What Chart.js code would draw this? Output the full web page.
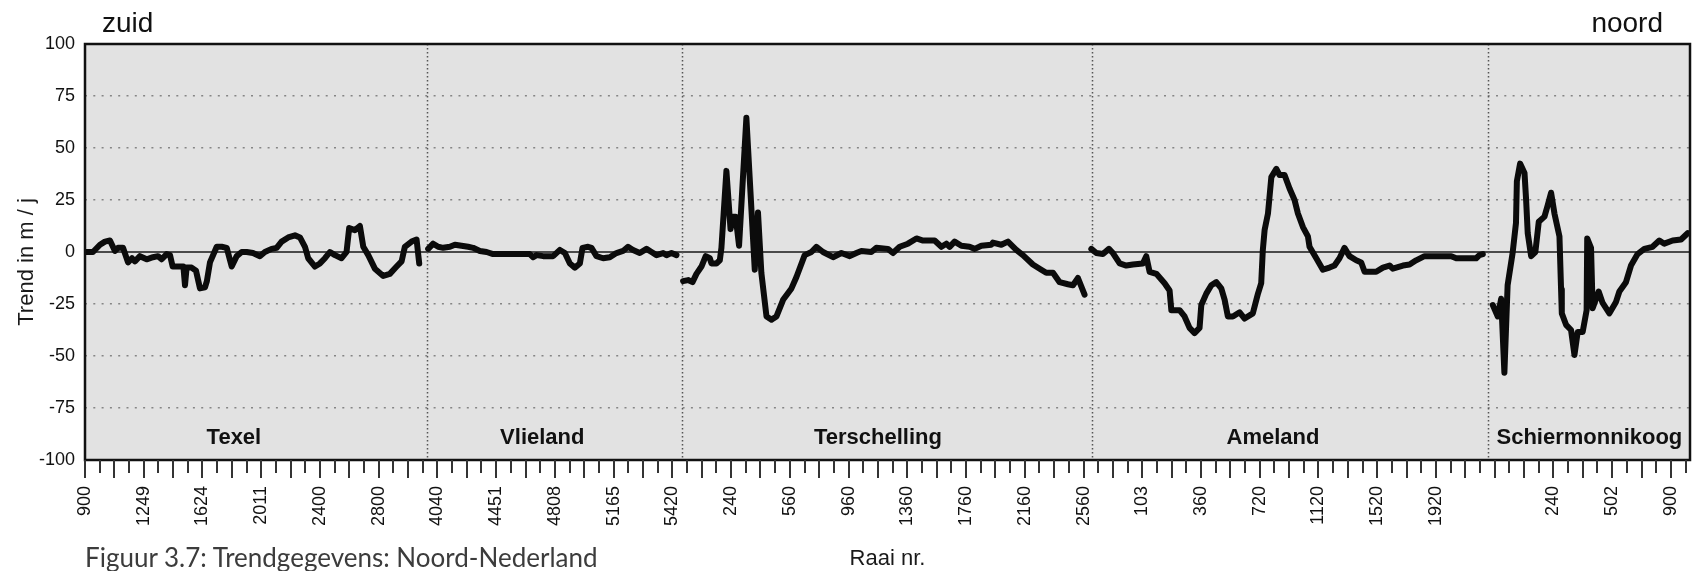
<!DOCTYPE html>
<html>
<head>
<meta charset="utf-8">
<title>Trendgegevens Noord-Nederland</title>
<script src="https://cdn.jsdelivr.net/npm/chart.js@4.4.1/dist/chart.umd.min.js"></script>
<style>
    body { margin: 0; background: #fff; }
    #wrap { position: relative; width: 1697px; height: 571px; overflow: hidden; }
    #chart { position: absolute; left: 0; top: 0; }
    .side { position: absolute; top: 9px; font: 28px 'Liberation Sans', Arial, sans-serif; line-height: 28px; color: #111; }
    #zuid { left: 102px; }
    #noord { right: 34px; }
    #caption { position: absolute; left: 85px; top: 544px; font: 26px Lato, sans-serif; line-height: 26px; color: #3c3c3c; white-space: nowrap; }
</style>
</head>
<body>
<div id="wrap">
    <canvas id="chart" width="1697" height="571"></canvas>
    <div class="side" id="zuid">zuid</div>
    <div class="side" id="noord">noord</div>
    <div id="caption">Figuur 3.7: Trendgegevens: Noord-Nederland</div>
</div>
<script>
// x values are positions along the axis (one unit = one tick), y = trend in m/j
const texelPos = [0, 0.54, 1.02, 1.36, 1.70, 2.04, 2.25, 2.59, 2.93, 3.20, 3.40, 3.74, 4.20, 4.63, 4.97, 5.22, 5.56, 5.79, 5.97, 6.58, 6.70, 6.81, 6.92, 7.26, 7.56, 7.83, 8.17, 8.30, 8.51, 8.97, 9.31, 9.65, 9.99, 10.33, 10.67, 11.01, 11.44, 11.91, 12.25, 12.71, 13.05, 13.39, 13.84, 14.30, 14.64, 14.98, 15.20, 15.66, 16.00, 16.34, 16.68, 17.02, 17.47, 17.81, 17.99, 18.38, 18.72, 18.95, 19.29, 19.74, 20.31, 20.76, 21.22, 21.56, 21.78, 22.24, 22.58, 22.76];
const texelTrend = [0, 0, 3.5, 5, 5.5, 0.5, 2, 2, -5, -3, -4.5, -2, -3.5, -2.5, -2, -3.5, -1, -1.5, -7, -7, -7, -16, -7.5, -7.5, -9, -17.5, -17, -14, -5, 2.5, 2.5, 2, -7, -2, 0, 0, -0.5, -2, 0, 1.5, 2, 5, 7, 8, 7, 2.5, -3, -7, -5.5, -3, 0, -1.5, -3, 0, 11.5, 10.5, 12.5, 2.5, -1.5, -8, -11.5, -10.5, -7, -4.5, 2.5, 5, 6, -5.5];

const vlielandPos = [23.37, 23.71, 24.05, 24.39, 24.85, 25.19, 25.64, 26.09, 26.43, 26.89, 27.35, 27.79, 30.29, 30.52, 30.75, 31.20, 31.88, 32.34, 32.68, 33.02, 33.36, 33.70, 33.88, 34.26, 34.49, 34.83, 35.28, 35.74, 36.19, 36.64, 36.98, 37.32, 37.78, 38.24, 38.58, 38.92, 39.37, 39.60, 39.94, 40.28];
const vlielandTrend = [1.5, 4, 2.5, 2, 2.5, 3.5, 3, 2.5, 2, 0.5, 0, -1, -1, -2.5, -1.5, -2, -2, 1, -0.5, -5.5, -7.5, -5.5, 2, 2.5, 2, -2, -3, -2.5, -0.5, 0.5, 2.5, 1, -0.5, 1.5, 0, -1.5, -0.5, -1.5, -0.5, -1.5];

const terschellingPos = [40.73, 41.07, 41.37, 41.64, 41.98, 42.27, 42.55, 42.66, 43.00, 43.23, 43.34, 43.68, 43.96, 44.13, 44.31, 44.54, 45.04, 45.61, 45.83, 46.06, 46.41, 46.75, 47.09, 47.54, 48.11, 48.45, 49.01, 49.47, 49.81, 50.26, 50.94, 51.51, 52.08, 52.53, 52.87, 53.55, 53.89, 54.68, 55.02, 55.48, 56.04, 56.62, 57.07, 57.86, 58.32, 58.66, 58.88, 59.22, 59.68, 60.24, 60.59, 61.04, 61.72, 61.83, 62.40, 62.85, 63.42, 63.87, 64.55, 65.12, 65.46, 65.92, 66.37, 66.94, 67.28, 67.62, 68.07];
const terschellingTrend = [-14, -13.5, -14.5, -10.5, -7, -2, -3, -5.5, -5.5, -4, 2, 39, 11, 17, 17, 3, 64.5, -8.5, 19, -10, -31, -32.5, -31, -23, -17.5, -12, -1.5, 0, 2.5, 0, -2.5, -0.5, -2, -0.5, 0.5, 0, 2, 1.5, -0.5, 2.5, 4, 6.5, 5.5, 5.5, 2.5, 4, 2.5, 5, 3, 2.5, 1.5, 3, 3.5, 4.5, 3.5, 5, 1, -1.5, -6, -8.5, -10, -10, -14.5, -15.5, -16, -12.5, -20.5];

const amelandPos = [68.53, 68.87, 69.32, 69.73, 70.00, 70.46, 70.91, 71.36, 72.04, 72.27, 72.50, 72.96, 73.52, 73.86, 73.98, 74.54, 74.88, 75.22, 75.56, 75.90, 76.02, 76.36, 76.70, 77.04, 77.38, 77.61, 77.83, 78.17, 78.63, 78.97, 79.53, 79.88, 80.10, 80.21, 80.33, 80.56, 80.79, 81.13, 81.35, 81.69, 82.03, 82.37, 82.60, 82.94, 83.28, 83.39, 83.85, 84.30, 84.75, 85.09, 85.43, 85.77, 86.11, 86.57, 86.91, 87.14, 87.93, 88.39, 88.84, 89.06, 89.75, 90.20, 90.65, 91.22, 93.04, 93.38, 94.74, 94.96, 95.19];
const amelandTrend = [1.5, -0.5, -1, 1.5, -0.5, -5.5, -6.5, -6, -5.5, -2, -9.5, -10.5, -15, -18.5, -28, -28, -31, -36.5, -39, -36.5, -25.5, -20, -16, -14.5, -17.5, -23, -31, -31, -29, -32, -29.5, -20, -15, 1, 10.5, 18.5, 36, 40, 37, 37, 30.5, 25, 18.5, 12, 7.5, 2.5, -3, -8.5, -7.5, -6.5, -3, 2, -2, -4, -5, -9.5, -9.5, -7.5, -6.5, -8, -6.5, -6, -4, -2, -2, -3, -3, -1.5, -1];

const schierPos = [95.87, 96.21, 96.44, 96.66, 96.88, 97.22, 97.45, 97.51, 97.73, 98.03, 98.14, 98.25, 98.48, 98.77, 99.00, 99.39, 99.61, 99.84, 100.07, 100.41, 100.52, 100.57, 100.86, 101.20, 101.43, 101.65, 101.99, 102.26, 102.30, 102.56, 102.67, 103.08, 103.35, 103.81, 104.26, 104.49, 104.94, 105.28, 105.73, 106.19, 106.75, 107.21, 107.55, 108.12, 108.69, 109.14];
const schierTrend = [-25.5, -31, -22.5, -58, -16, -0.5, 14, 34, 42.5, 38, 25, 9, -2, 0, 14.5, 17, 22.5, 28.5, 18.5, 7.5, -18, -29.5, -35, -37.5, -49.5, -38.5, -38.5, -28, 6.5, 2, -27, -19, -24.5, -29.5, -24, -19, -14.5, -6.5, -1, 1.5, 2.5, 5.5, 4, 5.5, 6, 9];

// raai numbers shown under every 4th tick ('' = no label)
const xTickLabels = ['900', '1249', '1624', '2011', '2400', '2800', '4040', '4451', '4808', '5165', '5420',
    '240', '560', '960', '1360', '1760', '2160', '2560', '103', '360', '720', '1120', '1520', '1920', '',
    '240', '502', '900'];

const islands = ['Texel', 'Vlieland', 'Terschelling', 'Ameland', 'Schiermonnikoog'];
const islandBounds = [23.26, 40.66, 68.57, 95.53];

const X_MAX = 109.3;
const FONT = "'Liberation Sans', Arial, Helvetica, sans-serif";

function series(pos, trend) {
    return pos.map((x, i) => ({ x: x, y: trend[i] }));
}

const seriesList = [
    [texelPos, texelTrend],
    [vlielandPos, vlielandTrend],
    [terschellingPos, terschellingTrend],
    [amelandPos, amelandTrend],
    [schierPos, schierTrend]
];

const framePlugin = {
    id: 'frame',
    beforeDraw(chart) {
        const { ctx, chartArea: a } = chart;
        ctx.save();
        ctx.fillStyle = '#e2e2e2';
        ctx.fillRect(a.left, a.top, a.right - a.left, a.bottom - a.top);
        ctx.restore();
    },
    beforeDatasetsDraw(chart) {
        const { ctx, chartArea: a, scales } = chart;
        ctx.save();
        // zero line
        const y0 = scales.y.getPixelForValue(0);
        ctx.strokeStyle = '#4a4a4a';
        ctx.lineWidth = 2;
        ctx.beginPath();
        ctx.moveTo(a.left, y0);
        ctx.lineTo(a.right, y0);
        ctx.stroke();
        // island separators
        ctx.strokeStyle = '#555';
        ctx.lineWidth = 1.5;
        ctx.setLineDash([1.5, 2.5]);
        for (const b of islandBounds) {
            const x = Math.round(scales.x.getPixelForValue(b)) + 0.5;
            ctx.beginPath();
            ctx.moveTo(x, a.top);
            ctx.lineTo(x, a.bottom);
            ctx.stroke();
        }
        ctx.restore();
    },
    afterDatasetsDraw(chart, args, opts) {
        const { ctx, chartArea: a, scales } = chart;
        ctx.save();
        ctx.fillStyle = '#111';
        ctx.font = 'bold 22px ' + FONT;
        ctx.textAlign = 'center';
        ctx.textBaseline = 'middle';
        islands.forEach((name, i) => {
            ctx.fillText(name, scales.x.getPixelForValue(opts.labelAt[i]), a.bottom - 22);
        });
        ctx.strokeStyle = '#111';
        ctx.lineWidth = 2.5;
        ctx.strokeRect(a.left, a.top, a.right - a.left, a.bottom - a.top);
        ctx.restore();
    },
    afterDraw(chart) {
        const { ctx, chartArea: a, scales } = chart;
        ctx.save();
        // tick marks: long and short in turn
        ctx.strokeStyle = '#333';
        ctx.lineWidth = 2;
        for (let i = 0; i <= Math.floor(X_MAX); i++) {
            const x = Math.round(scales.x.getPixelForValue(i));
            ctx.beginPath();
            ctx.moveTo(x, a.bottom);
            ctx.lineTo(x, a.bottom + (i % 2 === 0 ? 18 : 13));
            ctx.stroke();
        }
        ctx.fillStyle = '#1a1a1a';
        // x axis title
        ctx.font = '22px ' + FONT;
        ctx.textAlign = 'center';
        ctx.textBaseline = 'alphabetic';
        ctx.fillText('Raai nr.', (a.left + a.right) / 2, 565);
        // y axis title
        ctx.translate(33, 262);
        ctx.rotate(-Math.PI / 2);
        ctx.fillText('Trend in m / j', 0, 0);
        ctx.restore();
    }
};

new Chart(document.getElementById('chart').getContext('2d'), {
    type: 'line',
    data: {
        datasets: seriesList.map(([pos, trend], i) => ({
            label: islands[i],
            data: series(pos, trend),
            borderColor: '#0b0b0b',
            borderWidth: 6,
            pointRadius: 0,
            tension: 0,
            borderJoinStyle: 'round',
            borderCapStyle: 'round'
        }))
    },
    options: {
        responsive: false,
        animation: false,
        devicePixelRatio: 1,
        layout: { padding: { left: 0, top: 44, right: 7, bottom: 0 } },
        plugins: {
            legend: { display: false },
            tooltip: { enabled: false },
            frame: { labelAt: [10.14, 31.14, 54.0, 80.9, 102.45] }
        },
        scales: {
            x: {
                type: 'linear',
                min: 0,
                max: X_MAX,
                afterBuildTicks(scale) {
                    const ticks = [];
                    for (let i = 0; i <= Math.floor(X_MAX); i++) ticks.push({ value: i });
                    scale.ticks = ticks;
                },
                afterFit(scale) {
                    scale.height = 111;
                    scale.paddingLeft = 0;
                    scale.paddingRight = 0;
                },
                grid: { display: false },
                border: { display: false },
                ticks: {
                    autoSkip: false,
                    minRotation: 90,
                    maxRotation: 90,
                    padding: 18,
                    color: '#111',
                    font: { family: FONT, size: 18 },
                    callback: (value) => (value % 4 === 0 ? (xTickLabels[value / 4] || '') : '')
                }
            },
            y: {
                min: -100,
                max: 100,
                afterFit(scale) { scale.width = 85; },
                border: { display: false, dash: [2, 6.3] },
                grid: {
                    drawTicks: false,
                    lineWidth: 1.5,
                    color: (c) => (Math.abs(c.tick.value) === 100 || c.tick.value === 0 ? 'rgba(0,0,0,0)' : '#858585')
                },
                ticks: {
                    stepSize: 25,
                    padding: 10,
                    color: '#111',
                    font: { family: FONT, size: 18 }
                }
            }
        }
    },
    plugins: [framePlugin]
});
</script>
</body>
</html>
